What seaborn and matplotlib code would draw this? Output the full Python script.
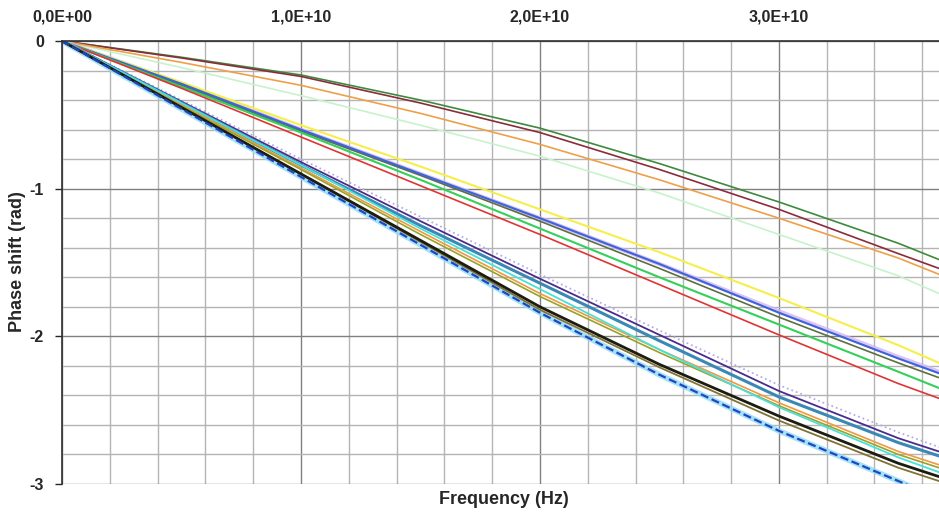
import numpy as np
import seaborn as sns
import matplotlib.pyplot as plt
from matplotlib.ticker import FuncFormatter

# frequency points (Hz)
freq = [0, 0.5e10, 1.0e10, 1.5e10, 2.0e10, 2.5e10, 3.0e10, 3.5e10, 3.67e10]

# phase shift (rad), one list per curve
dark_green = [0, -0.11, -0.23, -0.40, -0.59, -0.83, -1.09, -1.37, -1.48]
maroon = [0, -0.115, -0.24, -0.42, -0.62, -0.87, -1.14, -1.44, -1.54]
orange_hi = [0, -0.145, -0.30, -0.49, -0.70, -0.94, -1.20, -1.47, -1.58]
mint = [0, -0.18, -0.37, -0.57, -0.78, -1.03, -1.31, -1.59, -1.71]
yellow = [0, -0.28, -0.57, -0.85, -1.14, -1.43, -1.74, -2.06, -2.18]
lavender_mid = [0, -0.29, -0.60, -0.90, -1.20, -1.51, -1.83, -2.14, -2.24]
blue_mid = [0, -0.29, -0.60, -0.90, -1.20, -1.51, -1.84, -2.15, -2.25]
olive_mid = [0, -0.30, -0.61, -0.91, -1.22, -1.54, -1.87, -2.18, -2.28]
green = [0, -0.31, -0.62, -0.94, -1.27, -1.60, -1.92, -2.24, -2.35]
red = [0, -0.32, -0.65, -0.98, -1.31, -1.65, -1.99, -2.32, -2.42]
lavender_dot = [0, -0.40, -0.80, -1.19, -1.58, -1.96, -2.33, -2.65, -2.75]
indigo = [0, -0.41, -0.82, -1.22, -1.61, -1.99, -2.37, -2.69, -2.78]
teal = [0, -0.42, -0.84, -1.25, -1.64, -2.03, -2.41, -2.72, -2.81]
orange_lo = [0, -0.43, -0.86, -1.29, -1.71, -2.09, -2.45, -2.78, -2.87]
olive_lo = [0, -0.44, -0.87, -1.31, -1.73, -2.11, -2.47, -2.80, -2.89]
cyan = [0, -0.42, -0.84, -1.27, -1.68, -2.09, -2.48, -2.82, -2.92]
black = [0, -0.45, -0.90, -1.35, -1.80, -2.19, -2.54, -2.86, -2.95]
brown_olive = [0, -0.45, -0.90, -1.36, -1.82, -2.21, -2.57, -2.89, -2.98]
blue_dash = [0, -0.46, -0.92, -1.38, -1.84, -2.26, -2.64, -2.98, -3.10]

# (values, colour, width, linestyle, alpha)
curves = [
    (mint, "#c8f2cc", 1.2, "-", 1),
    (dark_green, "#3d8a3d", 1.2, "-", 1),
    (maroon, "#8a2c3c", 1.2, "-", 1),
    (orange_hi, "#eea048", 1.2, "-", 1),
    (lavender_mid, "#d2b4f5", 3.0, "-", 0.8),
    (yellow, "#f6ee4a", 1.5, "-", 1),
    (olive_mid, "#5e6e40", 1.2, "-", 1),
    (blue_mid, "#3a64d8", 1.5, "-", 1),
    (green, "#34d05a", 1.5, "-", 1),
    (red, "#e03434", 1.2, "-", 1),
    (blue_dash, "#8cdcf5", 4.0, "-", 0.8),
    (lavender_dot, "#b4aee2", 1.3, ":", 1),
    (indigo, "#4a2c8c", 1.3, "-", 1),
    (teal, "#3a88b4", 2.2, "-", 1),
    (orange_lo, "#ee9a40", 1.2, "-", 1),
    (olive_lo, "#9aa22a", 1.2, "-", 1),
    (cyan, "#48e0d8", 1.3, "-", 1),
    (brown_olive, "#807234", 1.3, "-", 1),
    (black, "#1c1c10", 2.0, "-", 1),
    (blue_dash, "#2244c4", 1.6, "--", 1),
]

sns.set_style("white")
plt.rcParams["font.family"] = ["Liberation Sans", "DejaVu Sans"]
plt.rcParams["axes.unicode_minus"] = False

fig = plt.figure(figsize=(9.39, 5.16), dpi=100)
ax = fig.add_axes([62 / 939, 1 - 484 / 516, 1 - 62 / 939, (484 - 41) / 516])

for vals, col, lw, ls, a in curves:
    sns.lineplot(x=freq, y=vals, color=col, linewidth=lw, linestyle=ls,
                 alpha=a, ax=ax, legend=False)

ax.set_xlim(0, 3.67e10)
ax.set_ylim(-3, 0)

ax.set_xticks([0, 1e10, 2e10, 3e10])
ax.set_xticks(np.arange(0, 3.67e10, 0.2e10), minor=True)
ax.set_yticks([0, -1, -2, -3])
ax.set_yticks(np.arange(-3, 0.01, 0.2), minor=True)
ax.grid(which="minor", color="#b4b4b4", linewidth=1.0)
ax.grid(which="major", color="#808080", linewidth=1.0)
ax.set_axisbelow(True)

ax.xaxis.tick_top()
ax.xaxis.set_major_formatter(FuncFormatter(lambda v, p: f"{v:.1E}".replace(".", ",")))
ax.tick_params(axis="x", which="major", length=0, pad=12, labelsize=11.5)
ax.tick_params(axis="x", which="minor", length=0)
ax.tick_params(axis="y", which="major", length=5, width=1, direction="out",
               pad=8, labelsize=11.5, left=True)
ax.tick_params(axis="y", which="minor", length=0)
for lab in ax.get_xticklabels() + ax.get_yticklabels():
    lab.set_fontweight("bold")

for side in ["right", "bottom"]:
    ax.spines[side].set_visible(False)
for side in ["top", "left"]:
    ax.spines[side].set_color("#303030")
    ax.spines[side].set_linewidth(1.2)

ax.set_xlabel("")
ax.set_ylabel("")
fig.text(18 / 939, 1 - 262 / 516, "Phase shift (rad)", rotation=90,
         ha="center", va="center", fontsize=13, fontweight="bold")
fig.text(504 / 939, 1 - 500 / 516, "Frequency (Hz)", ha="center", va="center",
         fontsize=13, fontweight="bold")

fig.savefig("out.png", dpi=100)
